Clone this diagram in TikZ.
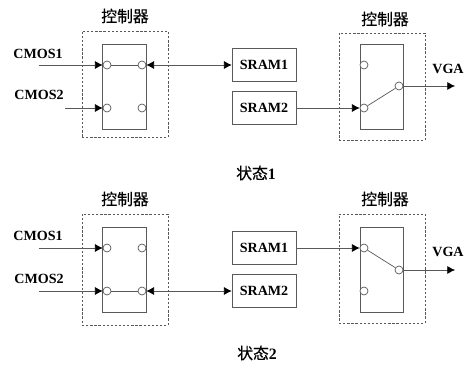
\documentclass[tikz,border=0pt]{standalone}
\usepackage{fontspec}
\setmainfont{Liberation Serif}
\newfontfamily\cjk[FakeBold=0.3]{Noto Sans CJK SC}
\usetikzlibrary{arrows.meta}

\tikzset{
	line/.style={draw=black!65, line width=0.6pt},
	tip/.style={>={Latex[black,length=2.3mm,width=2.4mm]}},
	ctrlbox/.style={line, dashed, dash pattern=on 2pt off 1.5pt, minimum width=2.58cm, inner sep=0},
	switchbox/.style={line, minimum width=1.3cm, minimum height=2.55cm, inner sep=0},
	pin/.style={line, circle, fill=white, minimum size=0.24cm, inner sep=0},
	mem/.style={line, minimum width=1.92cm, minimum height=0.97cm, inner sep=0, font=\bfseries\fontsize{12}{14}\selectfont},
	label/.style={font=\bfseries\fontsize{12}{14}\selectfont},
	title/.style={font=\cjk\fontsize{13.5}{14}\selectfont},
}

\begin{document}
\begin{tikzpicture}[x=0.03cm, y=-0.03cm, tip]
	\useasboundingbox (0,0) rectangle (465,367);

	% state 1
	\node[title] (t1) at (125,16) {控制器};
	\node[title] (t2) at (385,19) {控制器};
	\node[ctrlbox, minimum height=3.18cm] (c1) at (125,84) {};
	\node[ctrlbox, minimum height=3.21cm] (c2) at (382,86.5) {};
	\node[switchbox] (s1) at (124.5,86.5) {};
	\node[switchbox] (s2) at (382,86.5) {};

	\node[pin] (a) at (107,65) {};
	\node[pin] (b) at (142,65) {};
	\node[pin] (c) at (107,108) {};
	\node[pin] (d) at (142,108) {};
	\node[pin] (e) at (364,65) {};
	\node[pin] (f) at (364,108) {};
	\node[pin] (g) at (399,86) {};

	\node[label] (cmos1) at (38,54) {CMOS1};
	\node[label] (cmos2) at (39,95) {CMOS2};
	\node[mem] (sram1) at (264,65) {SRAM1};
	\node[mem] (sram2) at (264,108) {SRAM2};
	\node[label] (vga) at (448,69) {VGA};
	\node[font=\bfseries\fontsize{13.5}{14}\selectfont] (state1) at (256,173) {{\cjk\mdseries 状态}1};

	\coordinate (p) at (39,65);
	\coordinate (q) at (65,108);
	\coordinate (r) at (455,86);

	\path [->] (p) edge[line] (a);
	\path [->] (q) edge[line] (c);
	\path (a) edge[line] (b);
	\path [<->] (b) edge[line] (sram1);
	\path [->] (sram2) edge[line] (f);
	\path (f) edge[line] (g);
	\path [->] (g) edge[line] (r);

	% state 2
	\node[title] (t3) at (125,199) {控制器};
	\node[title] (t4) at (385,199) {控制器};
	\node[ctrlbox, minimum height=3.33cm] (c3) at (125,269.5) {};
	\node[ctrlbox, minimum height=3.27cm] (c4) at (382,268.5) {};
	\node[switchbox] (s3) at (124.5,269.5) {};
	\node[switchbox] (s4) at (382,269.5) {};

	\node[pin] (h) at (107,248) {};
	\node[pin] (i) at (142,248) {};
	\node[pin] (j) at (107,291) {};
	\node[pin] (k) at (142,291) {};
	\node[pin] (l) at (364,248) {};
	\node[pin] (m) at (364,291) {};
	\node[pin] (n) at (399,270) {};

	\node[label] (cmos3) at (38,236) {CMOS1};
	\node[label] (cmos4) at (39,279) {CMOS2};
	\node[mem] (sram3) at (264,248) {SRAM1};
	\node[mem] (sram4) at (264,291) {SRAM2};
	\node[label] (vga2) at (448,252) {VGA};
	\node[font=\bfseries\fontsize{13.5}{14}\selectfont] (state2) at (257,353) {{\cjk\mdseries 状态}2};

	\coordinate (u) at (39,248);
	\coordinate (v) at (39,291);
	\coordinate (w) at (455,270);

	\path [->] (u) edge[line] (h);
	\path [->] (v) edge[line] (j);
	\path (j) edge[line] (k);
	\path [<->] (k) edge[line] (sram4);
	\path [->] (sram3) edge[line] (l);
	\path (l) edge[line] (n);
	\path [->] (n) edge[line] (w);
\end{tikzpicture}
\end{document}
